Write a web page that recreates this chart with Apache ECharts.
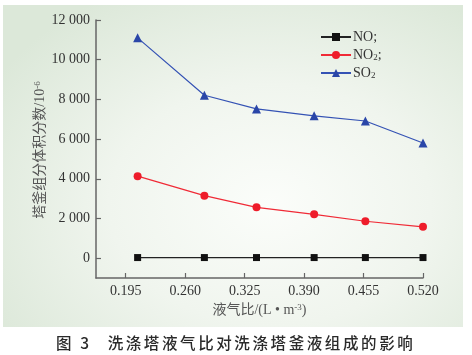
<!DOCTYPE html>
<html>
<head>
<meta charset="utf-8">
<script src="https://cdn.jsdelivr.net/npm/echarts@6/dist/echarts.min.js"></script>
<style>
  html, body { margin: 0; padding: 0; background: #ffffff; }
  #wrap { position: relative; width: 472px; height: 355px; overflow: hidden; }
  #panel { position: absolute; left: 3px; top: 5px; width: 460px; height: 322px;
    background: radial-gradient(ellipse 70% 75% at 58% 62%, #fbfdfa 0%, #f0f5ee 50%, #dce8d9 100%); }
  #chart { position: absolute; left: 0; top: 0; width: 472px; height: 355px; }
  #caption { position: absolute; left: 56px; top: 332px; height: 20px; white-space: nowrap;
    font-family: "Noto Sans CJK SC", sans-serif; font-weight: 500; font-size: 15.5px;
    color: #2a2a2a; letter-spacing: 2.6px; line-height: 20px; }
</style>
</head>
<body>
<div id="wrap">
  <div id="panel"></div>
  <div id="chart"></div>
  <div id="caption">图 3<span style="margin-left:16px">洗涤塔液气比对洗涤塔釜液组成的影响</span></div>
</div>
<script>
// Data
var xValues = [0.208, 0.281, 0.338, 0.401, 0.457, 0.520];
var seriesNames = ['NO', 'NO2', 'SO2'];
var noValues = [30, 30, 30, 30, 30, 30];
var no2Values = [4130, 3150, 2560, 2210, 1860, 1580];
var so2Values = [11100, 8210, 7520, 7170, 6910, 5800];
var xTicks = [0.195, 0.260, 0.325, 0.390, 0.455, 0.520];
var yTicks = [0, 2000, 4000, 6000, 8000, 10000, 12000];

function pairs(vals) { return xValues.map(function (x, i) { return [x, vals[i]]; }); }

var serif = '"Liberation Serif", "Noto Sans CJK SC", serif';
var chart = echarts.init(document.getElementById('chart'), null, { renderer: 'canvas' });
chart.setOption({
  backgroundColor: 'transparent',
  animation: false,
  grid: { left: 96, right: 49, top: 20, bottom: 77, containLabel: false, outerBoundsMode: 'none' },
  graphic: [{
    type: 'text', x: 40, y: 150, rotation: Math.PI / 2,
    style: {
      text: '{t|塔釜组分体积分数/10}{u|-6}',
      align: 'center', verticalAlign: 'middle',
      fill: '#555', font: '14px ' + serif,
      rich: {
        t: { fontFamily: serif, fontSize: 14, fill: '#555', lineHeight: 14 },
        u: { fontFamily: serif, fontSize: 9, fill: '#555', lineHeight: 9, verticalAlign: 'top' }
      }
    }
  }],
  legend: {
    orient: 'vertical', left: 315, top: 25,
    itemWidth: 30, itemHeight: 10, itemGap: 4,
    data: seriesNames,
    formatter: function (n) {
      return { NO: '{t|NO;}', NO2: '{t|NO}{s|2}{t|;}', SO2: '{t|SO}{s|2}' }[n];
    },
    textStyle: {
      color: '#333', fontFamily: serif, fontSize: 14, padding: [0, 0, 0, -3],
      rich: {
        t: { fontFamily: serif, fontSize: 14, color: '#333', lineHeight: 14 },
        s: { fontFamily: serif, fontSize: 9, color: '#333', lineHeight: 9, verticalAlign: 'bottom' }
      }
    }
  },
  xAxis: {
    type: 'value', min: 0.1625, max: 0.52,
    name: '{t|液气比/(L • m}{u|-3}{t|)}', nameLocation: 'middle', nameGap: 24,
    nameTextStyle: {
      color: '#555', fontFamily: serif, fontSize: 14,
      rich: {
        t: { fontFamily: serif, fontSize: 14, color: '#555', lineHeight: 14 },
        u: { fontFamily: serif, fontSize: 9, color: '#555', lineHeight: 9, verticalAlign: 'top' }
      }
    },
    axisLine: { show: true, onZero: false, lineStyle: { color: '#666', width: 1.5 } },
    axisTick: { show: true, inside: true, length: 5, customValues: xTicks, lineStyle: { color: '#666', width: 1.2 } },
    axisLabel: { customValues: xTicks, margin: 6, color: '#333', fontFamily: serif, fontSize: 14,
      formatter: function (v) { return v.toFixed(3); } },
    splitLine: { show: false }
  },
  yAxis: {
    type: 'value', min: -1000, max: 12000,
    axisLine: { show: true, onZero: false, lineStyle: { color: '#666', width: 1.5 } },
    axisTick: { show: true, inside: true, length: 5, customValues: yTicks, lineStyle: { color: '#666', width: 1.2 } },
    axisLabel: { customValues: yTicks, margin: 6, color: '#333', fontFamily: serif, fontSize: 14,
      formatter: function (v) {
        if (v < 1000) return String(v);
        var s = String(v);
        return s.slice(0, s.length - 3) + ' ' + s.slice(-3);
      } },
    splitLine: { show: false }
  },
  series: [
    { name: 'NO', type: 'line', data: pairs(noValues), symbol: 'rect', symbolSize: 7,
      itemStyle: { color: '#111' }, lineStyle: { color: '#222', width: 1.3 } },
    { name: 'NO2', type: 'line', data: pairs(no2Values), symbol: 'circle', symbolSize: 8,
      itemStyle: { color: '#ee1c2a' }, lineStyle: { color: '#f02a36', width: 1.2 } },
    { name: 'SO2', type: 'line', data: pairs(so2Values), symbol: 'triangle', symbolSize: 9,
      itemStyle: { color: '#2a46a8' }, lineStyle: { color: '#3452b4', width: 1.2 } }
  ]
});
</script>
</body>
</html>
